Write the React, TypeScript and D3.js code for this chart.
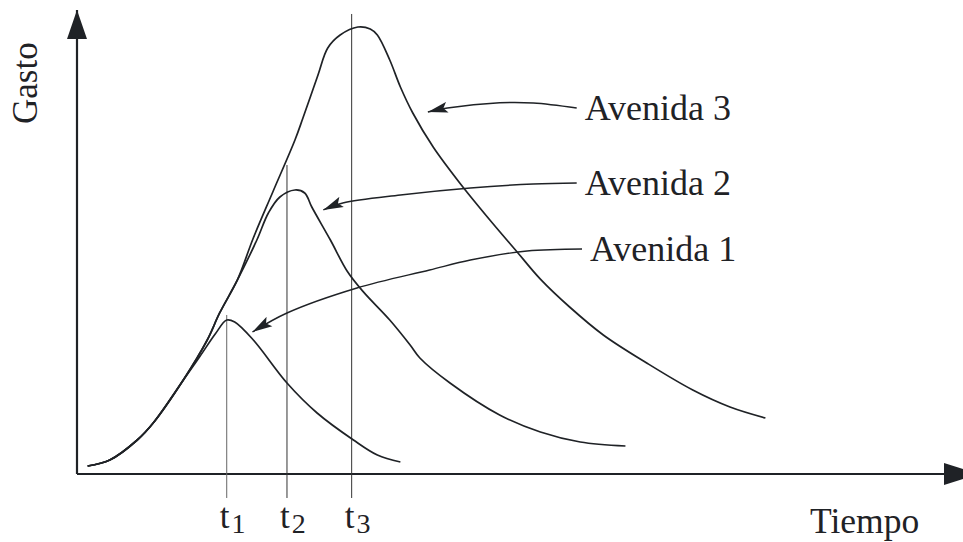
import React from 'react';
import * as d3 from 'd3';

// hidrogramas de tres avenidas: [tiempo, gasto]
const risingLimb: [number, number][] = [
  [0.12, 1.72], [0.37, 3.02], [0.68, 7.33], [0.86, 10.99], [1.2, 20.26],
];
const sharedUpper: [number, number][] = [
  [1.47, 28.88], [1.61, 34.7], [1.81, 41.81],
];
const avenida1: [number, number][] = [
  ...risingLimb,
  [1.39, 25.43], [1.56, 30.17], [1.69, 33.19], [1.78, 32.76], [1.99, 28.88],
  [2.37, 19.61], [2.71, 13.15], [3.12, 7.33], [3.39, 4.09], [3.65, 2.59],
];
const avenida2: [number, number][] = [
  ...risingLimb, ...sharedUpper,
  [2.03, 50.43], [2.16, 56.25], [2.29, 59.7], [2.46, 61.21], [2.57, 60.56],
  [2.65, 57.54], [2.86, 50.43], [3.05, 43.7], [3.23, 39.3], [3.53, 33.19],
  [3.76, 27.8], [3.87, 25.0], [4.21, 19.61], [4.77, 12.72], [5.23, 9.05],
  [5.68, 6.9], [6.19, 6.03],
];
const avenida3: [number, number][] = [
  ...risingLimb, ...sharedUpper,
  [1.99, 50.86], [2.21, 60.78], [2.46, 71.98], [2.55, 76.72], [2.72, 85.99],
  [2.83, 91.81], [2.97, 94.61], [3.17, 96.34], [3.31, 95.91], [3.39, 94.61],
  [3.53, 89.22], [3.65, 83.41], [3.79, 77.8], [4.02, 70.47], [4.32, 62.72],
  [4.66, 54.74], [4.97, 47.8], [5.23, 42.0], [5.56, 35.99], [5.94, 29.96],
  [6.43, 23.92], [6.95, 18.1], [7.37, 14.44], [7.77, 12.07],
];

// tiempos pico marcados y altura de sus guias
const peakTimes = [1.69, 2.37, 3.1];
const peakGuideTop = [34.27, 66.59, 99.14];
const peakLabels = ['1', '2', '3'];

// flechas de las etiquetas (desde el texto hasta la curva)
const labels = ['Avenida 3', 'Avenida 2', 'Avenida 1'];
const leaders: [number, number][][] = [
  [[5.64, 78.88], [5.15, 79.96], [4.77, 80.0], [4.18, 78.88], [3.96, 78.02]],
  [[5.64, 62.72], [5.15, 62.5], [4.44, 61.64], [3.65, 60.13], [3.0, 58.41], [2.78, 56.9]],
  [[5.7, 48.49], [5.08, 48.06], [4.44, 46.12], [3.98, 43.97], [3.16, 40.09], [2.37, 34.7], [1.98, 30.6]],
];

const W = 963;
const H = 542;
const ink = '#1f2226';
const font = '"Liberation Serif", "Times New Roman", serif';

export default function App() {
  const x = d3.scaleLinear().domain([0, 10]).range([77, 963]);
  const y = d3.scaleLinear().domain([0, 100]).range([474, 10]);

  const curve = d3.line<[number, number]>()
    .x(d => x(d[0]))
    .y(d => y(d[1]))
    .curve(d3.curveCatmullRom.alpha(0.5));

  return (
    <svg width={W} height={H} style={{ position: 'absolute', left: 0, top: 0, background: '#fff' }}>
      <defs>
        <marker id="yHead" viewBox="-29 -10 29 20" refX={0} refY={0}
          markerWidth={29} markerHeight={20} markerUnits="userSpaceOnUse" orient="auto">
          <path d="M0,0 L-29,-10 L-29,10 Z" fill={ink} />
        </marker>
        <marker id="xHead" viewBox="-35 -11 35 22" refX={0} refY={0}
          markerWidth={35} markerHeight={22} markerUnits="userSpaceOnUse" orient="auto">
          <path d="M0,0 L-35,-11 L-35,11 Z" fill={ink} />
        </marker>
        <marker id="leaderHead" viewBox="-20 -6 20 12" refX={0} refY={0}
          markerWidth={20} markerHeight={12} markerUnits="userSpaceOnUse" orient="auto">
          <path d="M0,0 L-20,-5.5 L-16,0 L-20,5.5 Z" fill={ink} />
        </marker>
      </defs>

      {/* ejes */}
      <line x1={x(0)} y1={y(0)} x2={x(0)} y2={y(100)} stroke={ink} strokeWidth={2.2}
        markerEnd="url(#yHead)" />
      <line x1={x(0)} y1={y(0)} x2={x(10.18)} y2={y(0)} stroke={ink} strokeWidth={2.2}
        markerEnd="url(#xHead)" />

      {/* guias de los picos */}
      {peakTimes.map((t, i) => (
        <line key={i} x1={x(t)} x2={x(t)} y1={y(peakGuideTop[i])} y2={y(-5.17)}
          stroke={i === 0 ? '#666' : '#333'} strokeWidth={1} />
      ))}

      {/* hidrogramas */}
      {[avenida1, avenida2, avenida3].map((d, i) => (
        <path key={i} d={curve(d) || ''} fill="none" stroke={ink} strokeWidth={1.7} />
      ))}

      {/* flechas */}
      {leaders.map((d, i) => (
        <path key={i} d={curve(d) || ''} fill="none" stroke={ink} strokeWidth={1.4}
          markerEnd="url(#leaderHead)" />
      ))}

      {/* textos */}
      {leaders.map((d, i) => (
        <text key={i} x={x(d[0][0]) + 8} y={y(d[0][1]) + 12} fontFamily={font}
          fontSize={36} fill={ink}>{labels[i]}</text>
      ))}
      {peakTimes.map((t, i) => (
        <text key={i} x={x(t) - 7} y={528} fontFamily={font} fontSize={35} fill={ink}>
          t<tspan fontSize={28} dx={2} dy={5}>{peakLabels[i]}</tspan>
        </text>
      ))}
      <text x={810} y={533} fontFamily={font} fontSize={35.5} fill={ink}>Tiempo</text>
      <text transform="translate(37,124) rotate(-90)" fontFamily={font} fontSize={35}
        fill={ink}>Gasto</text>
    </svg>
  );
}
